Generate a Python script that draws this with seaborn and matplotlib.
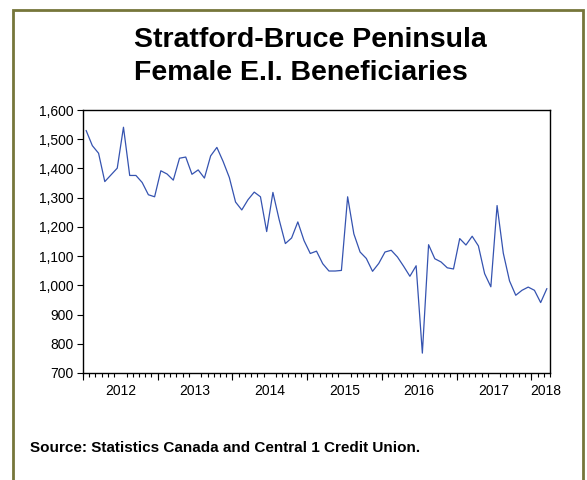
import matplotlib
matplotlib.use("Agg")
import matplotlib.pyplot as plt
from matplotlib.patches import Rectangle
from matplotlib.ticker import FixedLocator, FuncFormatter
import numpy as np
import pandas as pd
import seaborn as sns

# monthly female E.I. beneficiaries, Jan 2012 - Mar 2018
months = pd.period_range("2012-01", "2018-03", freq="M")
beneficiaries = [
    1530, 1478, 1452, 1355, 1378, 1401, 1541, 1376, 1376, 1352, 1310, 1303,
    1392, 1381, 1360, 1435, 1439, 1380, 1395, 1367, 1443, 1472, 1424, 1369,
    1285, 1258, 1293, 1319, 1303, 1184, 1318, 1225, 1143, 1162, 1217, 1153,
    1109, 1117, 1074, 1049, 1049, 1051, 1303, 1176, 1114, 1092, 1048, 1075,
    1114, 1120, 1097, 1065, 1031, 1067, 768, 1139, 1091, 1080, 1060, 1056,
    1160, 1138, 1168, 1135, 1040, 995, 1273, 1110, 1015, 966, 983, 994,
    983, 941, 989,
]
year_labels = ["2012", "2013", "2014", "2015", "2016", "2017", "2018"]
year_label_pos = [2012.5, 2013.5, 2014.5, 2015.5, 2016.5, 2017.5, 2018.19]

df = pd.DataFrame({
    "t": [m.year + (m.month - 0.5) / 12 for m in months],
    "value": beneficiaries,
})

sns.set_style("ticks")
plt.rcParams["font.family"] = ["Liberation Sans", "DejaVu Sans"]
plt.rcParams["text.color"] = "black"
plt.rcParams["xtick.color"] = "black"
plt.rcParams["ytick.color"] = "black"

fig = plt.figure(figsize=(5.87, 4.8), dpi=100)
ax = fig.add_axes([83 / 587, 1 - 373 / 480, 467 / 587, 263 / 480])

sns.lineplot(data=df, x="t", y="value", ax=ax, color="#3553b0", linewidth=0.9)

ax.set_xlim(2012, 2018.25)
ax.set_ylim(700, 1600)
ax.set_yticks(np.arange(700, 1601, 100))
ax.yaxis.set_major_formatter(FuncFormatter(lambda v, p: f"{int(v):,}"))
ax.set_xticks(year_label_pos)
ax.set_xticklabels(year_labels)
ax.xaxis.set_minor_locator(FixedLocator(np.arange(2012, 2018.26, 1 / 12)))
ax.tick_params(axis="x", which="major", length=0, pad=8, labelsize=10)
ax.tick_params(axis="x", which="minor", length=3, width=0.8)
ax.tick_params(axis="y", length=4, width=0.8, labelsize=10, pad=3)

# year boundary ticks
sec = ax.secondary_xaxis("bottom")
sec.set_xticks(range(2012, 2019))
sec.set_xticklabels([])
sec.tick_params(length=5, width=0.8, color="black")
sec.spines["bottom"].set_visible(False)

ax.set_xlabel("")
ax.set_ylabel("")
for s in ax.spines.values():
    s.set_visible(True)
    s.set_color("black")
    s.set_linewidth(1)

fig.text(134 / 587, 1 - 47 / 480, "Stratford-Bruce Peninsula", fontsize=20.5,
         fontweight="bold", ha="left", va="baseline")
fig.text(134 / 587, 1 - 80 / 480, "Female E.I. Beneficiaries", fontsize=20.5,
         fontweight="bold", ha="left", va="baseline")
fig.text(30 / 587, 1 - 452 / 480, "Source: Statistics Canada and Central 1 Credit Union.",
         fontsize=11, fontweight="bold", ha="left", va="baseline")

# olive frame round the chart
fig.patches.append(Rectangle((13 / 587, -0.02), 570 / 587, 1.02 - 10 / 480,
                             transform=fig.transFigure, fill=False,
                             edgecolor="#76763a", linewidth=2, clip_on=False))

fig.savefig("out.png", dpi=100, facecolor="white")
